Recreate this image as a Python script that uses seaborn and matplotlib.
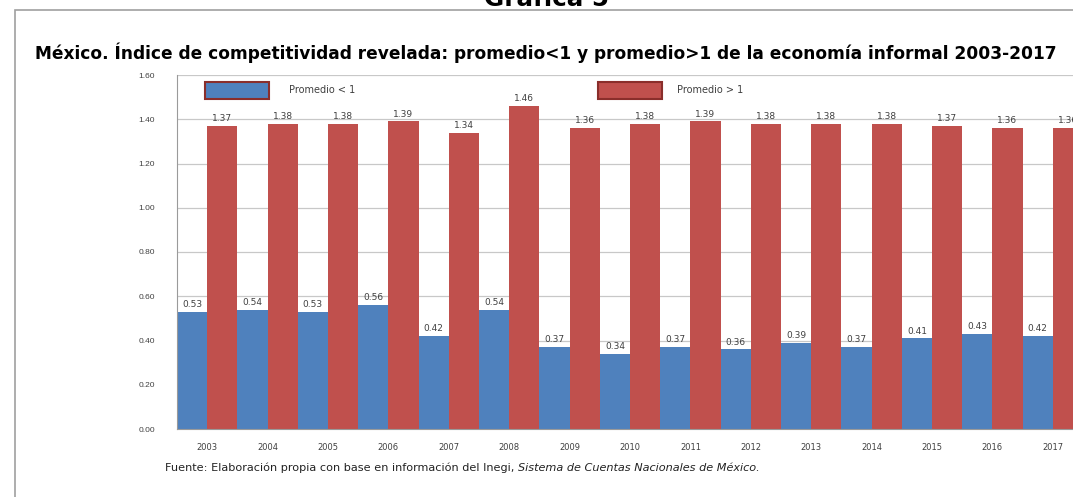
import numpy as np
import pandas as pd
import matplotlib
matplotlib.use("Agg")
import matplotlib.pyplot as plt
from matplotlib.patches import Patch, Rectangle
import seaborn as sns

# Data
years = ["2003", "2004", "2005", "2006", "2007", "2008", "2009", "2010",
         "2011", "2012", "2013", "2014", "2015", "2016", "2017"]
promedio_menor = [0.53, 0.54, 0.53, 0.56, 0.42, 0.54, 0.37, 0.34,
                  0.37, 0.36, 0.39, 0.37, 0.41, 0.43, 0.42]
promedio_mayor = [1.37, 1.38, 1.38, 1.39, 1.34, 1.46, 1.36, 1.38,
                  1.39, 1.38, 1.38, 1.38, 1.37, 1.36, 1.36]
series_names = ["Promedio < 1", "Promedio > 1"]
y_ticks = [0.0, 0.2, 0.4, 0.6, 0.8, 1.0, 1.2, 1.4, 1.6]

BLUE = "#4F81BD"
RED = "#C0504D"
EDGE = "#8A2E2B"
TXT = "#404040"

df = pd.DataFrame({
    "year": years * 2,
    "valor": promedio_menor + promedio_mayor,
    "serie": [series_names[0]] * len(years) + [series_names[1]] * len(years),
})

sns.set_style("white")
plt.rcParams["font.family"] = ["DejaVu Sans"]

W, H = 1073, 497
fig = plt.figure(figsize=(W / 100, H / 100), dpi=100)
fig.patch.set_facecolor("white")


def fit_width(txt, target_px):
    # scale a text's font size so it spans the same width as in the source
    fig.canvas.draw()
    w = txt.get_window_extent().width
    txt.set_fontsize(txt.get_fontsize() * target_px / w)


# axes placed in pixel terms; the right part runs past the figure edge
left, right, top, bottom = 177, 1083, 75, 429
ax = fig.add_axes([left / W, 1 - bottom / H, (right - left) / W, (bottom - top) / H])

sns.barplot(data=df, x="year", y="valor", hue="serie", order=years,
            hue_order=series_names, palette=[BLUE, RED], width=1.0,
            saturation=1, legend=False, ax=ax, linewidth=0)

for cont in ax.containers:
    ax.bar_label(cont, fmt="%.2f", padding=2, fontsize=6.5, color=TXT)

ax.set_xlim(-0.5, len(years) - 0.5)
ax.set_ylim(0, 1.6)
ax.set_yticks(y_ticks)
ax.set_yticklabels([f"{v:.2f}" for v in y_ticks], fontsize=6, color=TXT,
                   family=["Liberation Sans", "DejaVu Sans"])
ax.tick_params(axis="x", labelsize=6, labelcolor=TXT, length=0, pad=10)
ax.set_xticks(np.arange(-0.5, len(years), 1), minor=True)
ax.tick_params(axis="x", which="minor", length=4, color="#9a9a9a", direction="out")
ax.tick_params(axis="y", length=4, color="#9a9a9a", direction="out", pad=12)
ax.set_xlabel("")
ax.set_ylabel("")
ax.grid(axis="y", color="#c8c8c8", linewidth=0.9)
ax.set_axisbelow(True)
for side in ["top", "right"]:
    ax.spines[side].set_visible(False)
ax.spines["left"].set_color("#9a9a9a")
ax.spines["bottom"].set_color("#9a9a9a")

# legend: two separate entries placed like in the source
leg_pos = [(205, 82, 2.0), (598, 82, 1.5)]
for name, color, (lx, ly, pad) in zip(series_names, [BLUE, RED], leg_pos):
    h = Patch(facecolor=color, edgecolor=EDGE, linewidth=1.5)
    fig.legend([h], [name], loc="upper left", bbox_to_anchor=(lx / W, 1 - ly / H),
               frameon=False, fontsize=7, handlelength=6.6, handleheight=2.3,
               handletextpad=pad, borderpad=0, borderaxespad=0, labelcolor=TXT)

# outer frame of the figure box
fig.patches.append(Rectangle((15 / W, -0.1), 1.2, 1 - 10 / H + 0.1,
                             transform=fig.transFigure, fill=False,
                             edgecolor="#a0a0a0", linewidth=1.2))

head = fig.text(547 / W, 1 - 6 / H, "Gráfica 5", ha="center", va="baseline",
                fontsize=16, fontweight="bold", color="black")
fit_width(head, 125)

title = fig.text(546 / W, 1 - 59 / H,
                 "México. Índice de competitividad revelada: promedio<1 y promedio>1 "
                 "de la economía informal 2003-2017",
                 ha="center", va="baseline", fontsize=12, fontweight="bold",
                 color="black")
fit_width(title, 1021)

src = fig.text(165 / W, 1 - 471 / H,
               "Fuente: Elaboración propia con base en información del Inegi, ",
               ha="left", va="baseline", fontsize=7, color="#222222")
src_it = fig.text(0, 1 - 471 / H, "Sistema de Cuentas Nacionales de México.",
                  ha="left", va="baseline", fontsize=7, style="italic",
                  color="#222222")
fig.canvas.draw()
total = src.get_window_extent().width + src_it.get_window_extent().width
scale = 600 / total
src.set_fontsize(7 * scale)
src_it.set_fontsize(7 * scale)
fig.canvas.draw()
src_it.set_x(src.get_window_extent().x1 / W)

fig.savefig("out.png", dpi=100)
